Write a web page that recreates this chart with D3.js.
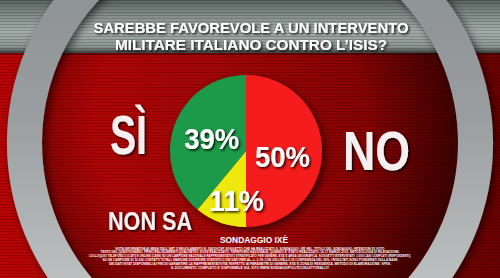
<!DOCTYPE html>
<html>
<head>
<meta charset="utf-8">
<script src="https://cdn.jsdelivr.net/npm/d3@7"></script>
<style>
  html, body { margin: 0; padding: 0; background: #000; overflow: hidden; }
  svg { display: block; }
  text { font-family: "Liberation Sans", Arial, sans-serif; font-weight: bold; fill: #fff; }
</style>
</head>
<body>
<div id="chart"></div>
<script>
// ===== Data (pie order: clockwise from 12 o'clock) =====
const categories = ['NO', 'NON SA', 'SÌ'];
const values = [50, 11, 39];
const sliceColors = ['#f41c1c', '#eee80c', '#1f9a48'];

const titleLines = ['SAREBBE FAVOREVOLE A UN INTERVENTO', 'MILITARE ITALIANO CONTRO L\u2019ISIS?'];
const sourceLabel = 'SONDAGGIO IXÈ';
const noteLines = [
    'NOTA INFORMATIVA AI SENSI DELL\u2019ART. 5 REGOLAMENTO N. 256/10/CSP. SOGGETTO CHE HA REALIZZATO IL SONDAGGIO: IXÈ SRL. TITOLO DEL SONDAGGIO: INTENZIONI DI VOTO',
    'TESTO DEL QUESTIONARIO. PRINCIPALI ELEMENTI QUALITATIVI: DOVE REALIZZATO: TERRITORIO NAZIONALE, QUANDO E\u2019 STATO REALIZZATO: 16-17 MARZO 2015. METODOLOGIA DI RILEVAZIONE:',
    'COLLOQUIO TELEFONICO (CATI) E ONLINE (CAWI) SU UN CAMPIONE NAZIONALE RAPPRESENTATIVO STRATIFICATO PER GENERE, ETA\u2019 E AREA GEOGRAFICA. SOGGETTI INTERVISTATI: 1.000 CASI COMPLETI (RISPONDENTI),',
    'SU UN CAMPIONE DI 12.000 CONTATTI TOTALI. MARGINE DI ERRORE STATISTICO DEI DATI PARI AL +/- 3,1% CON UN LIVELLO DI CONFIDENZA DEL 95%. I RISULTATI SONO PONDERATI SULLA BASE',
    'DEI DATI ISTAT DISPONIBILI AI FINI DI GARANTIRE LA RAPPRESENTATIVITA\u2019 RISPETTO AI PARAMETRI DI GENERE, ETA\u2019 E ZONA DI RESIDENZA. METODO DI ELABORAZIONE: SPSS.',
    'IL DOCUMENTO COMPLETO E\u2019 DISPONIBILE SUL SITO WWW.SONDAGGIPOLITICOELETTORALI.IT'
];

// ===== Layout =====
const width = 500;
const height = 278;
const bandHeight = 53;
const ring = { cx: 250, cy: 143, inner: 208, outer: 243 };
const pieBox = { cx: 246, cy: 151, r: 76 };

const pieData = categories.map((c, i) => ({ category: c, value: values[i], color: sliceColors[i] }));

const svg = d3.select('#chart')
    .append('svg')
    .attr('width', width)
    .attr('height', height);

const defs = svg.append('defs');

// Background red: brighter on the left, darker on the right
const redGrad = defs.append('linearGradient').attr('id', 'redGrad');
redGrad.append('stop').attr('offset', '0%').attr('stop-color', '#b80404');
redGrad.append('stop').attr('offset', '45%').attr('stop-color', '#a20606');
redGrad.append('stop').attr('offset', '100%').attr('stop-color', '#6a0000');

// Metallic grey band at the top
const bandGrad = defs.append('linearGradient')
    .attr('id', 'bandGrad')
    .attr('x1', 0).attr('y1', 0).attr('x2', 0).attr('y2', 1);
[['0%', '#56605c'], ['18%', '#76817d'], ['60%', '#a4aeaa'], ['88%', '#8a9490'], ['100%', '#3e4442']]
    .forEach(([o, c]) => bandGrad.append('stop').attr('offset', o).attr('stop-color', c));

// Dark vignette inside the ring
const vignette = defs.append('radialGradient')
    .attr('id', 'vignette')
    .attr('cx', '45%').attr('cy', '45%').attr('r', '55%');
vignette.append('stop').attr('offset', '60%').attr('stop-color', '#000').attr('stop-opacity', 0);
vignette.append('stop').attr('offset', '100%').attr('stop-color', '#000').attr('stop-opacity', 0.45);

// Ring metal
const ringGrad = defs.append('linearGradient')
    .attr('id', 'ringGrad')
    .attr('x1', 0).attr('y1', 0).attr('x2', 0).attr('y2', 1);
[['0%', '#858a8d'], ['45%', '#9a9ea0'], ['75%', '#b9bcbd'], ['100%', '#dcdcdc']]
    .forEach(([o, c]) => ringGrad.append('stop').attr('offset', o).attr('stop-color', c));

// Horizontal scanlines
const scan = defs.append('pattern')
    .attr('id', 'scan')
    .attr('patternUnits', 'userSpaceOnUse')
    .attr('width', 4).attr('height', 3);
scan.append('rect').attr('width', 4).attr('height', 1).attr('fill', '#000').attr('opacity', 0.16);

const shadow = defs.append('filter').attr('id', 'shadow')
    .attr('x', '-20%').attr('y', '-20%').attr('width', '140%').attr('height', '140%');
shadow.append('feDropShadow')
    .attr('dx', 3).attr('dy', 3).attr('stdDeviation', 4)
    .attr('flood-color', '#000').attr('flood-opacity', 0.6);

const textShadow = defs.append('filter').attr('id', 'textShadow')
    .attr('x', '-20%').attr('y', '-30%').attr('width', '140%').attr('height', '160%');
textShadow.append('feDropShadow')
    .attr('dx', 1.5).attr('dy', 1.5).attr('stdDeviation', 1)
    .attr('flood-color', '#000').attr('flood-opacity', 0.85);

defs.append('clipPath').attr('id', 'innerClip')
    .append('circle').attr('cx', ring.cx).attr('cy', ring.cy).attr('r', ring.inner);

// ===== 1. Background =====
svg.append('rect').attr('width', width).attr('height', height).attr('fill', 'url(#redGrad)');

svg.append('g').attr('clip-path', 'url(#innerClip)')
    .append('rect')
    .attr('x', ring.cx - ring.inner).attr('y', ring.cy - ring.inner)
    .attr('width', ring.inner * 2).attr('height', ring.inner * 2)
    .attr('fill', 'url(#vignette)');

svg.append('rect').attr('width', width).attr('height', bandHeight).attr('fill', 'url(#bandGrad)');
svg.append('rect').attr('y', bandHeight).attr('width', width).attr('height', 2).attr('fill', '#000').attr('opacity', 0.35);

svg.append('rect').attr('width', width).attr('height', height).attr('fill', 'url(#scan)');

// ===== 2. Metal ring =====
const ringArc = d3.arc()
    .innerRadius(ring.inner)
    .outerRadius(ring.outer)
    .startAngle(0)
    .endAngle(2 * Math.PI);

svg.append('path')
    .attr('transform', `translate(${ring.cx},${ring.cy})`)
    .attr('d', ringArc())
    .attr('fill', 'url(#ringGrad)')
    .attr('filter', 'url(#shadow)');

// ===== 3. Title =====
const title = svg.append('g').attr('filter', 'url(#textShadow)');
title.selectAll('text')
    .data(titleLines)
    .join('text')
    .attr('x', 251)
    .attr('y', (d, i) => 33 + i * 17)
    .attr('text-anchor', 'middle')
    .attr('font-size', 15)
    .attr('textLength', (d, i) => i === 0 ? 315 : 272)
    .attr('lengthAdjust', 'spacingAndGlyphs')
    .text(d => d);

// ===== 4. Pie =====
const pie = d3.pie().sort(null).value(d => d.value);
const arc = d3.arc().innerRadius(0).outerRadius(pieBox.r);
const arcs = pie(pieData);

const pieGroup = svg.append('g')
    .attr('transform', `translate(${pieBox.cx},${pieBox.cy})`);

pieGroup.append('g')
    .attr('filter', 'url(#shadow)')
    .selectAll('path')
    .data(arcs)
    .join('path')
    .attr('d', arc)
    .attr('fill', d => d.data.color);

// Percentage labels at the slice centroids (small slices pushed outward)
const labelNudge = { 'NO': [0, 5], 'NON SA': [8, 1], 'SÌ': [0, 0] };
pieGroup.append('g')
    .attr('filter', 'url(#textShadow)')
    .selectAll('text')
    .data(arcs)
    .join('text')
    .attr('transform', d => {
        const rr = d.data.value < 20 ? pieBox.r * 0.68 : pieBox.r * 0.48;
        const c = d3.arc().innerRadius(rr).outerRadius(rr).centroid(d);
        const n = labelNudge[d.data.category];
        return `translate(${c[0] + n[0]},${c[1] + n[1] + 10.5})`;
    })
    .attr('text-anchor', 'middle')
    .attr('font-size', 30)
    .attr('textLength', 55)
    .attr('lengthAdjust', 'spacingAndGlyphs')
    .text(d => `${d.data.value}%`);

// ===== 5. Category labels =====
const categoryLabels = {
    'SÌ': { x: 128.5, y: 154, size: 56, w: 37 },
    'NO': { x: 376.5, y: 170, size: 56, w: 67 },
    'NON SA': { x: 150, y: 230, size: 25, w: 84 }
};
svg.append('g')
    .attr('filter', 'url(#textShadow)')
    .selectAll('text')
    .data(categories)
    .join('text')
    .attr('x', d => categoryLabels[d].x)
    .attr('y', d => categoryLabels[d].y)
    .attr('text-anchor', 'middle')
    .attr('font-size', d => categoryLabels[d].size)
    .attr('textLength', d => categoryLabels[d].w)
    .attr('lengthAdjust', 'spacingAndGlyphs')
    .style('fill', '#f6f0f0')
    .text(d => d);

// ===== 6. Source and small print =====
svg.append('text')
    .attr('x', 254)
    .attr('y', 243)
    .attr('text-anchor', 'middle')
    .attr('font-size', 8.5)
    .attr('textLength', 68)
    .attr('lengthAdjust', 'spacingAndGlyphs')
    .text(sourceLabel);

const noteWidths = [269, 299, 322, 295, 282, 158];
svg.append('g')
    .selectAll('text')
    .data(noteLines)
    .join('text')
    .attr('x', 250)
    .attr('y', (d, i) => 249.5 + i * 3.8)
    .attr('text-anchor', 'middle')
    .attr('font-size', 3.6)
    .attr('textLength', (d, i) => noteWidths[i])
    .attr('lengthAdjust', 'spacingAndGlyphs')
    .text(d => d);
</script>
</body>
</html>
